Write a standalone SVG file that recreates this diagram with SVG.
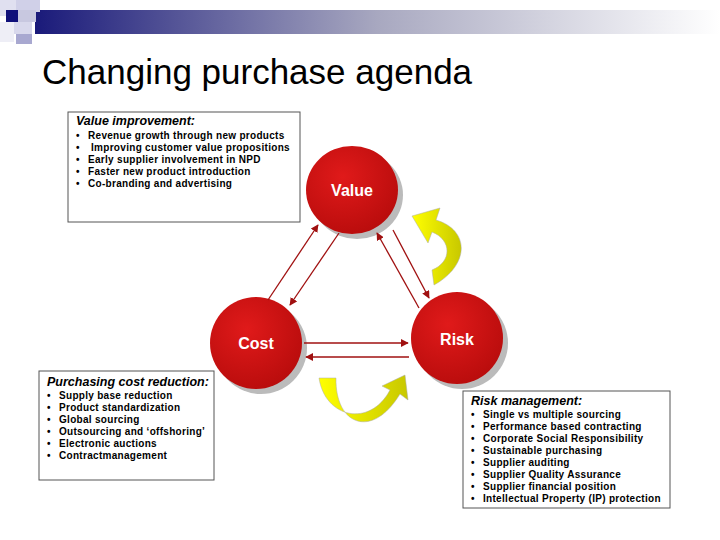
<svg xmlns="http://www.w3.org/2000/svg" width="720" height="540" viewBox="0 0 720 540">
<defs>
<linearGradient id="bar" x1="0" x2="1"><stop offset="0" stop-color="#1a1a7a"/><stop offset="0.5" stop-color="#a8a8c0"/><stop offset="1" stop-color="#ffffff"/></linearGradient>
<radialGradient id="red" cx="0.4" cy="0.35" r="0.7"><stop offset="0" stop-color="#e01a1a"/><stop offset="1" stop-color="#b80c0c"/></radialGradient>
<linearGradient id="yel" x1="0" x2="1"><stop offset="0" stop-color="#ffff00"/><stop offset="1" stop-color="#c8c800"/></linearGradient>
<marker id="ah" viewBox="0 0 10 10" refX="9" refY="5" markerWidth="6" markerHeight="6" orient="auto"><path d="M0,0 L10,5 L0,10 z" fill="#a01010"/></marker>
<style>
.box{fill:#fff;stroke:#555;stroke-width:1}
.t{font-family:"Liberation Sans",Arial,sans-serif;font-size:10px;letter-spacing:0.3px;font-weight:bold;fill:#000}
.h{font-family:"Liberation Sans",Arial,sans-serif;font-size:12.5px;font-weight:bold;font-style:italic;fill:#000}
.n{font-family:"Liberation Sans",Arial,sans-serif;font-size:16px;font-weight:bold;fill:#fff}
.c{stroke:#a01010;stroke-width:1.3;marker-end:url(#ah)}
</style>
</defs>
<rect x="0" y="0" width="720" height="540" fill="#fff"/>
<rect x="35" y="10" width="685" height="24" fill="url(#bar)"/>
<rect x="0" y="0" width="16" height="16" fill="#e0e0f0"/>
<rect x="16" y="0" width="24" height="12" fill="#d0d0e8"/>
<rect x="6" y="10" width="12" height="12" fill="#10107a"/>
<rect x="18" y="10" width="18" height="12" fill="#c8c8e0"/>
<rect x="14" y="22" width="18" height="12" fill="#d8d8ec"/>
<rect x="0" y="22" width="14" height="20" fill="#eeeef6"/>
<rect x="16" y="34" width="16" height="10" fill="#a8a8d0"/>
<text x="42" y="84" font-family="Liberation Sans,Arial,sans-serif" font-size="35" fill="#000">Changing purchase agenda</text>

<g id="value-box"><rect class="box" x="68" y="112" width="232" height="110"/>
<text class="h" x="76" y="125">Value improvement:</text>
<text class="t"><tspan x="76" y="139">•</tspan><tspan x="88">Revenue growth through new products</tspan>
<tspan x="76" y="151">•</tspan><tspan x="91">Improving customer value propositions</tspan>
<tspan x="76" y="163">•</tspan><tspan x="88">Early supplier involvement in NPD</tspan>
<tspan x="76" y="175">•</tspan><tspan x="88">Faster new product introduction</tspan>
<tspan x="76" y="187">•</tspan><tspan x="88">Co-branding and advertising</tspan></text></g>

<g id="cost-box"><rect class="box" x="39" y="371" width="175" height="109"/>
<text class="h" x="47" y="386">Purchasing cost reduction:</text>
<text class="t"><tspan x="47" y="399">•</tspan><tspan x="59">Supply base reduction</tspan>
<tspan x="47" y="411">•</tspan><tspan x="59">Product standardization</tspan>
<tspan x="47" y="423">•</tspan><tspan x="59">Global sourcing</tspan>
<tspan x="47" y="435">•</tspan><tspan x="59">Outsourcing and ‘offshoring’</tspan>
<tspan x="47" y="447">•</tspan><tspan x="59">Electronic auctions</tspan>
<tspan x="47" y="459">•</tspan><tspan x="59">Contractmanagement</tspan></text></g>

<g id="risk-box"><rect class="box" x="463" y="391" width="207" height="117"/>
<text class="h" x="471" y="405">Risk management:</text>
<text class="t"><tspan x="471" y="418">•</tspan><tspan x="483">Single vs multiple sourcing</tspan>
<tspan x="471" y="430">•</tspan><tspan x="483">Performance based contracting</tspan>
<tspan x="471" y="442">•</tspan><tspan x="483">Corporate Social Responsibility</tspan>
<tspan x="471" y="454">•</tspan><tspan x="483">Sustainable purchasing</tspan>
<tspan x="471" y="466">•</tspan><tspan x="483">Supplier auditing</tspan>
<tspan x="471" y="478">•</tspan><tspan x="483">Supplier Quality Assurance</tspan>
<tspan x="471" y="490">•</tspan><tspan x="483">Supplier financial position</tspan>
<tspan x="471" y="502">•</tspan><tspan x="483">Intellectual Property (IP) protection</tspan></text></g>

<g id="value"><ellipse cx="357" cy="195" rx="46" ry="44" fill="#bbb"/><ellipse cx="352" cy="190" rx="46" ry="44" fill="url(#red)"/><text class="n" x="352" y="196" text-anchor="middle">Value</text></g>
<g id="cost"><circle cx="261" cy="348" r="46" fill="#bbb"/><circle cx="256" cy="343" r="46" fill="url(#red)"/><text class="n" x="256" y="349" text-anchor="middle">Cost</text></g>
<g id="risk"><circle cx="462" cy="343" r="46" fill="#bbb"/><circle cx="457" cy="338" r="46" fill="url(#red)"/><text class="n" x="457" y="345" text-anchor="middle">Risk</text></g>

<g id="connectors">
<line class="c" x1="268" y1="300" x2="318" y2="225"/>
<line class="c" x1="339" y1="233" x2="290" y2="305"/>
<line class="c" x1="393" y1="230" x2="429" y2="298"/>
<line class="c" x1="419" y1="308" x2="377" y2="233"/>
<line class="c" x1="304" y1="343" x2="408" y2="343"/>
<line class="c" x1="409" y1="357" x2="306" y2="357"/>
<path d="M434,285 C470,265 470,230 436,220 L440,208 L412,216 L428,243 L432,232 C452,240 452,262 432,270 Z" fill="url(#yel)" stroke="#aaa" stroke-width="0.5"/>
<path d="M319,378 C325,418 370,428 390,390 L382,386 L405,375 L408,400 L400,394 C372,440 335,425 336,378 Z" fill="url(#yel)" stroke="#aaa" stroke-width="0.5"/>
</g>
</svg>
